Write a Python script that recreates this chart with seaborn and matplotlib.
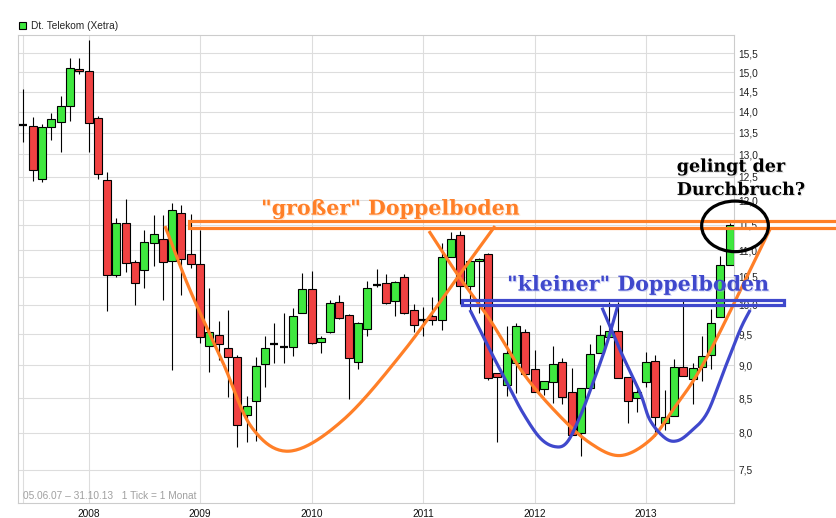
import numpy as np
import pandas as pd
import matplotlib
matplotlib.use("Agg")
import matplotlib.pyplot as plt
import matplotlib.patheffects as pe
from matplotlib.patches import Patch, Ellipse
from matplotlib.ticker import FixedLocator, FixedFormatter, NullLocator
import seaborn as sns

# monthly candles, Dt. Telekom (Xetra), 06/2007 - 10/2013
months = pd.date_range("2007-06-01", periods=77, freq="MS")
opens = [13.69, 13.66, 12.45, 13.63, 13.75, 14.13, 15.07, 15.02, 13.84, 12.42,
         10.53, 11.53, 10.78, 10.62, 11.13, 11.21, 10.79, 11.73, 10.92, 10.73,
         9.31, 9.48, 9.27, 9.13, 8.26, 8.46, 9.02, 9.34, 9.29, 9.29,
         9.86, 10.28, 9.37, 9.53, 10.05, 9.82, 9.05, 9.58, 10.35, 10.38,
         10.07, 10.49, 9.91, 9.74, 9.80, 9.74, 10.87, 11.29, 10.33, 10.79,
         10.93, 8.88, 8.70, 9.04, 9.53, 8.94, 8.63, 8.74, 9.05, 8.59,
         8.00, 8.65, 9.19, 9.46, 9.56, 8.82, 8.50, 8.74, 9.06, 8.14,
         8.24, 8.98, 8.78, 8.97, 9.16, 9.79, 10.71]
highs = [14.57, 13.87, 13.70, 13.97, 14.39, 15.37, 15.37, 15.86, 13.89, 12.60,
         11.63, 12.03, 10.81, 11.39, 11.70, 11.70, 11.94, 11.90, 11.71, 11.39,
         10.29, 9.72, 9.91, 9.16, 8.53, 9.13, 9.47, 9.69, 9.86, 9.94,
         10.57, 10.61, 9.47, 10.09, 10.17, 9.84, 9.70, 10.43, 10.64, 10.55,
         10.42, 10.55, 10.01, 9.97, 10.13, 11.13, 11.35, 11.37, 10.81, 10.84,
         10.95, 8.88, 9.63, 9.68, 9.58, 9.24, 8.75, 9.31, 9.12, 8.95,
         8.65, 9.34, 9.65, 10.04, 10.04, 8.82, 8.66, 9.21, 9.16, 8.62,
         9.10, 10.09, 9.03, 9.47, 9.92, 10.89, 11.54]
lows = [13.29, 12.41, 12.39, 13.33, 13.05, 13.78, 14.94, 13.04, 12.44, 9.90,
        10.50, 10.58, 10.00, 10.30, 10.69, 10.09, 8.93, 10.17, 10.66, 9.36,
        8.90, 9.08, 8.51, 7.81, 7.87, 7.89, 8.67, 9.04, 9.04, 9.15,
        9.85, 9.34, 9.20, 9.52, 9.76, 8.49, 8.94, 9.47, 10.32, 10.02,
        9.80, 9.84, 9.54, 9.47, 9.66, 9.57, 10.86, 10.01, 9.91, 9.86,
        8.77, 7.87, 8.53, 8.57, 8.86, 8.59, 8.55, 8.43, 8.42, 7.97,
        7.69, 8.65, 9.19, 9.46, 8.80, 8.14, 8.30, 8.67, 7.96, 8.04,
        8.24, 8.83, 8.41, 8.76, 8.94, 9.79, 10.71]
closes = [13.69, 12.64, 13.63, 13.82, 14.13, 15.10, 15.02, 13.72, 12.56, 10.53,
          11.53, 10.75, 10.38, 11.15, 11.31, 10.77, 11.79, 10.83, 10.73, 9.46,
          9.54, 9.34, 9.13, 8.11, 8.39, 8.99, 9.27, 9.34, 9.29, 9.81,
          10.27, 9.35, 9.44, 10.03, 9.77, 9.11, 9.68, 10.29, 10.35, 10.03,
          10.40, 9.85, 9.66, 9.74, 9.74, 10.86, 11.21, 10.33, 10.80, 10.83,
          8.80, 8.82, 9.19, 9.63, 8.86, 8.59, 8.75, 9.02, 8.51, 7.97,
          8.65, 9.18, 9.49, 9.56, 8.80, 8.46, 8.59, 9.05, 8.22, 8.23,
          8.97, 8.83, 8.95, 9.15, 9.68, 10.71, 11.49]

y_ticks = [7.5, 8.0, 8.5, 9.0, 9.5, 10.0, 10.5, 11.0, 11.5, 12.0,
           12.5, 13.0, 13.5, 14.0, 14.5, 15.0, 15.5]
y_tick_labels = ["7,5", "8,0", "8,5", "9,0", "9,5", "10,0", "10,5", "11,0", "11,5", "12,0",
                 "12,5", "13,0", "13,5", "14,0", "14,5", "15,0", "15,5"]
year_labels = ["2008", "2009", "2010", "2011", "2012", "2013"]

# hand drawn chart annotations, (month index, price)
big_base = [(15.23, 11.47), (17.92, 10.26), (21.47, 9.04), (24.6, 8.07),
            (28.68, 7.75), (34.38, 8.18), (40.84, 9.21), (46.98, 10.55), (50.74, 11.47)]
big_base2 = [(43.64, 11.37), (46.76, 10.53), (50.2, 9.74), (53.76, 8.88), (57.41, 8.28),
             (60.97, 7.86), (64.2, 7.69), (67.42, 7.90), (69.9, 8.33), (73.56, 9.13),
             (80.34, 11.41)]
small_base = [(48.05, 9.91), (50.2, 9.24), (52.03, 8.73), (53.76, 8.28), (55.59, 7.93),
              (57.2, 7.81), (58.49, 7.87), (59.89, 8.23), (61.29, 8.73), (62.8, 9.36),
              (63.98, 10.00)]
small_base2 = [(62.26, 9.95), (64.2, 9.24), (66.35, 8.58), (67.42, 8.18), (69.03, 7.93),
               (70.33, 7.89), (71.73, 8.01), (73.56, 8.28), (75.28, 8.88), (77.11, 9.57),
               (78.2, 9.91)]
big_line = (17.76, 11.58, 11.43)      # left end, upper, lower
small_box = (47.22, 81.84, 10.09, 9.99)
circle = (76.57, 11.475, 7.18, 1.01)

GREEN = "#3fe83f"
RED = "#f04242"
ORANGE = "#ff7f27"
BLUE = "#3f48cc"


def smooth(pts, n=24):
    # catmull-rom through the points, in (month, log price)
    p = np.array(pts, float)
    p[:, 1] = np.log(p[:, 1])
    p = np.vstack([2 * p[0] - p[1], p, 2 * p[-1] - p[-2]])
    t = np.linspace(0, 1, n, endpoint=False)[:, None]
    out = []
    for i in range(1, len(p) - 2):
        p0, p1, p2, p3 = p[i - 1], p[i], p[i + 1], p[i + 2]
        out.append(0.5 * (2 * p1 + (p2 - p0) * t + (2 * p0 - 5 * p1 + 4 * p2 - p3) * t ** 2
                          + (3 * p1 - p0 - 3 * p2 + p3) * t ** 3))
    out.append(p[-2][None, :])
    out = np.vstack(out)
    return out[:, 0], np.exp(out[:, 1])


sns.set_style("white")
plt.rcParams["font.family"] = ["Liberation Sans", "DejaVu Sans"]

df = pd.DataFrame({"month": months, "open": opens, "high": highs, "low": lows, "close": closes})
df["x"] = np.arange(len(df))
up = df[df.close > df.open]
down = df[df.close < df.open]
flat = df[df.close == df.open]

fig = plt.figure(figsize=(8.36, 5.18), dpi=100)
ax = fig.add_axes([18 / 836, 15 / 518, 716 / 836, 468 / 518])
ax.set_yscale("log")

w = 0.86
ax.vlines(df.x, df.low, df.high, color="black", lw=0.8, zorder=2)
ax.bar(up.x, up.close - up.open, bottom=up.open, width=w, color=GREEN,
       edgecolor="black", linewidth=0.8, zorder=3)
ax.bar(down.x, down.open - down.close, bottom=down.close, width=w, color=RED,
       edgecolor="black", linewidth=0.8, zorder=3)
ax.hlines(flat.close, flat.x - w / 2, flat.x + w / 2, color="black", lw=1.6, zorder=3)

ax.set_xlim(-0.59, 76.46)
ax.set_ylim(7.08, 16.0)

year_pos = list(df.x[df.month.dt.month == 1])
ax.xaxis.set_major_locator(FixedLocator([0] + year_pos))
ax.xaxis.set_major_formatter(FixedFormatter([""] + year_labels))
ax.yaxis.set_major_locator(FixedLocator(y_ticks))
ax.yaxis.set_major_formatter(FixedFormatter(y_tick_labels))
ax.yaxis.set_minor_locator(NullLocator())
ax.yaxis.tick_right()
ax.tick_params(axis="y", length=0, pad=3, labelsize=7.3, labelcolor="#222222")
ax.tick_params(axis="x", length=2.5, pad=1.5, labelsize=7.3, color="#cccccc", labelcolor="#111111")
ax.grid(True, color="#dddddd", lw=0.8, zorder=0)
ax.set_axisbelow(True)
for s in ax.spines.values():
    s.set_color("#cccccc")
    s.set_linewidth(0.8)

ax.text(0.0075, 0.008, "05.06.07 \u2013 31.10.13   1 Tick = 1 Monat", transform=ax.transAxes,
        fontsize=7.3, color="#a0a0a0", va="baseline", ha="left")

fig.legend(handles=[Patch(facecolor=GREEN, edgecolor="black", linewidth=0.8)],
           labels=["Dt. Telekom (Xetra)"], loc="upper left", bbox_to_anchor=(19 / 836, 1 - 21 / 518),
           frameon=False, fontsize=7.3, handlelength=0.72, handleheight=0.72,
           handletextpad=0.45, borderpad=0, borderaxespad=0)

# annotations
lw_a = 2.3
xl, yt, yb = big_line
ax.plot([88, xl, xl, 88], [yt, yt, yb, yb], color=ORANGE, lw=lw_a, clip_on=False, zorder=5,
        solid_joinstyle="miter")
for pts, col in [(big_base, ORANGE), (big_base2, ORANGE), (small_base, BLUE), (small_base2, BLUE)]:
    xs, ys = smooth(pts)
    ax.plot(xs, ys, color=col, lw=lw_a, clip_on=False, zorder=5, solid_capstyle="butt")
x0, x1, y0, y1 = small_box
ax.plot([x0, x1, x1, x0, x0], [y0, y0, y1, y1, y0], color=BLUE, lw=lw_a, clip_on=False, zorder=5,
        solid_joinstyle="miter")
cx, cy, cw, ch = circle
ax.add_patch(Ellipse((cx, cy), cw, ch, fill=False, edgecolor="black", lw=lw_a, clip_on=False, zorder=6))

serif = ["DejaVu Serif"]
ax.text(25.56, 11.70, "\"gro\u00dfer\" Doppelboden", color=ORANGE, fontsize=14.8, family=serif,
        weight="bold", va="baseline", ha="left", zorder=7, clip_on=False,
        path_effects=[pe.withSimplePatchShadow(offset=(0.8, -0.8), shadow_rgbFace="#ffc090", alpha=0.4)])
ax.text(52.03, 10.25, "\"kleiner\" Doppelboden", color=BLUE, fontsize=14.8, family=serif,
        weight="bold", va="baseline", ha="left", zorder=7, clip_on=False,
        path_effects=[pe.withSimplePatchShadow(offset=(0.8, -0.8), shadow_rgbFace="#a0a8f0", alpha=0.4)])
for txt, yb_ in [("gelingt der", 12.61), ("Durchbruch?", 12.11)]:
    ax.text(70.3, yb_, txt, color="black", fontsize=12.6, family=serif, weight="bold",
            va="baseline", ha="left", zorder=7, clip_on=False,
            path_effects=[pe.withSimplePatchShadow(offset=(0.8, -0.8), shadow_rgbFace="#999999", alpha=0.3)])

fig.savefig("out.png", dpi=100, facecolor="white")
